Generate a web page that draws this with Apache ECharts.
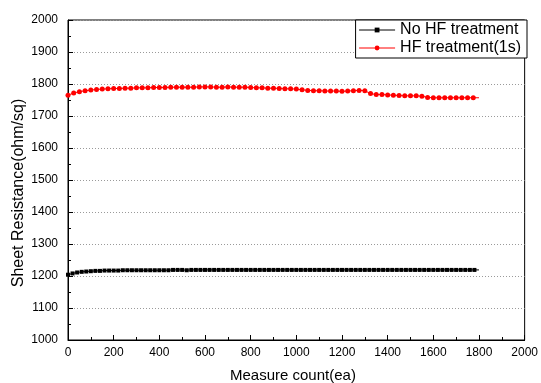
<!DOCTYPE html>
<html><head><meta charset="utf-8">
<script src="https://cdn.jsdelivr.net/npm/echarts@6/dist/echarts.min.js"></script>
<style>html,body{margin:0;padding:0;background:#fff}#c{width:541px;height:383px}</style>
</head><body><div id="c"></div>
<script>
var xTickLabels = ['0','200','400','600','800','1000','1200','1400','1600','1800','2000'];
var yTickLabels = ['1000','1100','1200','1300','1400','1500','1600','1700','1800','1900','2000'];
var seriesNames = ['No HF treatment', 'HF treatment(1s)'];
// black series: measure count every 20, 0..1780, then line end at 1800
var blackX = [];
for (var i = 0; i <= 1800; i += 20) blackX.push(i);
var blackY = [1204,1208,1211,1213,1214,1215,1216,1216,1217,1217,
              1217,1217,1218,1218,1218,1218,1218,1218,1218,1218,
              1218,1218,1218,1219,1219,1219,1218,1219,1219,1219,
              1219,1219,1219,1219,1219,1219,1219,1219,1219,1219,
              1219,1219,1219,1219,1219,1219,1219,1219,1219,1219,
              1219,1219,1219,1219,1219,1219,1219,1219,1219,1219,
              1219,1219,1219,1219,1219,1219,1219,1219,1219,1219,
              1219,1219,1219,1219,1219,1219,1219,1219,1219,1219,
              1219,1219,1219,1219,1219,1219,1219,1219,1219,1219,1219];
// red series: every 25, 0..1775, then line end at 1800
var redX = [];
for (var j = 0; j <= 1800; j += 25) redX.push(j);
var redY = [1765,1772,1776,1779,1781,1783,1784,1785,1786,1786,
            1787,1787,1788,1788,1788,1789,1789,1789,1790,1790,
            1790,1790,1790,1791,1791,1791,1790,1790,1791,1790,
            1790,1790,1789,1788,1788,1787,1787,1786,1785,1785,
            1784,1782,1780,1779,1779,1778,1778,1778,1777,1778,
            1779,1780,1779,1770,1767,1767,1766,1765,1764,1763,
            1763,1763,1762,1758,1757,1757,1757,1757,1757,1757,
            1757,1757,1757];

function build(xs, ys) {
  var out = [];
  for (var k = 0; k < xs.length; k++) {
    var item = { value: [xs[k], ys[k]] };
    if (k === xs.length - 1) item.symbolSize = 0;
    out.push(item);
  }
  return out;
}

var chart = echarts.init(document.getElementById('c'), null, {renderer: 'canvas'});
var font = 'Liberation Sans, Arial, sans-serif';
chart.setOption({
  animation: false,
  backgroundColor: '#fff',
  textStyle: { fontFamily: font },
  grid: { left: 68, right: 14, top: 20, bottom: 43, show: true, borderColor: '#000', borderWidth: 1, backgroundColor: 'transparent' },
  xAxis: {
    type: 'value', min: 0, max: 2000, interval: 200,
    axisLine: { show: true, onZero: false, lineStyle: { color: '#000', width: 1 } },
    axisTick: { show: true, inside: true, length: 5, lineStyle: { color: '#000' } },
    minorTick: { show: true, splitNumber: 2, length: 3, lineStyle: { color: '#000' } },
    axisLabel: { color: '#000', fontSize: 12, fontFamily: font, margin: 7,
      formatter: function (v) { return xTickLabels[Math.round(v / 200)]; } },
    splitLine: { show: false }
  },
  yAxis: {
    type: 'value', min: 1000, max: 2000, interval: 100,
    axisLine: { show: true, onZero: false, lineStyle: { color: '#000', width: 1 } },
    axisTick: { show: true, inside: true, length: 5, lineStyle: { color: '#000' } },
    minorTick: { show: true, splitNumber: 2, length: 3, lineStyle: { color: '#000' } },
    axisLabel: { color: '#000', fontSize: 12, fontFamily: font, margin: 10,
      formatter: function (v) { return yTickLabels[Math.round((v - 1000) / 100)]; } },
    splitLine: { show: true, lineStyle: { color: '#9a9a9a', type: [1, 2], width: 1 } }
  },
  legend: {
    orient: 'vertical', right: 14, top: 20,
    backgroundColor: '#fff', borderColor: '#000', borderWidth: 1,
    padding: [2, 6, 2, 3], itemGap: 2, itemWidth: 36, itemHeight: 6,
    lineStyle: { width: 1 },
    textStyle: { fontSize: 16, color: '#000', fontFamily: font },
    data: seriesNames
  },
  series: [
    { name: seriesNames[0], type: 'line', data: build(blackX, blackY),
      symbol: 'rect', symbolSize: 4, showAllSymbol: true,
      lineStyle: { color: '#000', width: 1 }, itemStyle: { color: '#000' } },
    { name: seriesNames[1], type: 'line', data: build(redX, redY),
      symbol: 'circle', symbolSize: 5, showAllSymbol: true,
      lineStyle: { color: '#ff0000', width: 1 }, itemStyle: { color: '#ff0000' } }
  ],
  graphic: [
    { type: 'text', top: 368, left: 230,
      style: { text: 'Measure count(ea)', fontSize: 15, fontFamily: font, fill: '#000' } },
    { type: 'text', rotation: Math.PI / 2, x: 19, y: 193,
      style: { text: 'Sheet Resistance(ohm/sq)', fontSize: 16, fontFamily: font, fill: '#000', align: 'center', verticalAlign: 'middle' } }
  ]
});
</script></body></html>
